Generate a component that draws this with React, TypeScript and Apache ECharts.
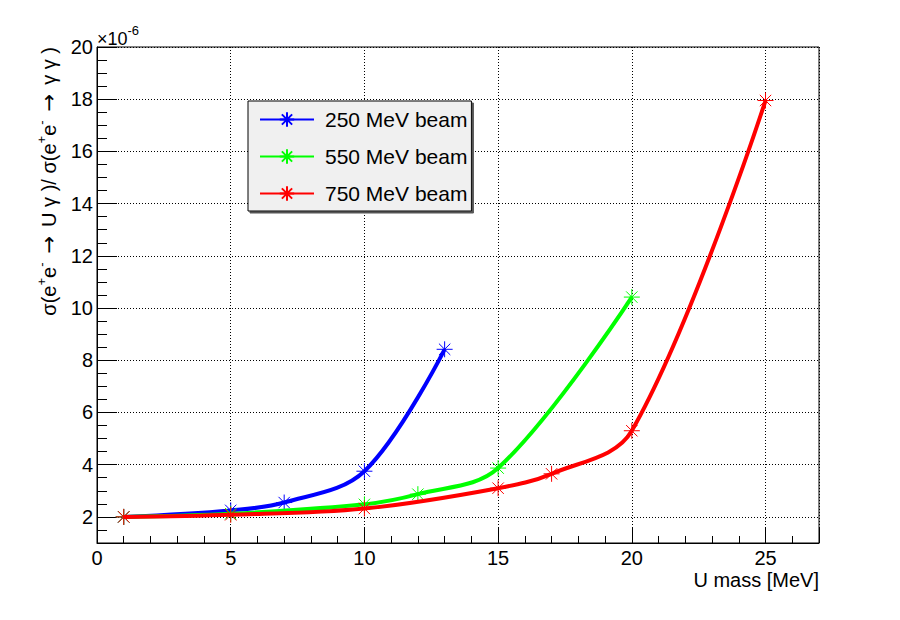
import React, { useEffect, useRef } from "react";
import * as echarts from "echarts";

// ---- data ----
const blueX = [1, 5, 7, 10, 13];
const blueY = [2.0, 2.25, 2.55, 3.75, 8.42];
const greenX = [1, 5, 10, 12, 15, 20];
const greenY = [2.0, 2.12, 2.48, 2.87, 3.87, 10.42];
const redX = [1, 5, 10, 15, 17, 20, 25];
const redY = [2.0, 2.08, 2.32, 3.1, 3.65, 5.3, 17.95];

const seriesNames = ["250 MeV beam", "550 MeV beam", "750 MeV beam"];
const seriesColors = ["#0000ff", "#00ff00", "#ff0000"];

const xMin = 0;
const xMax = 27;
const xInterval = 5;
const yMin = 1;
const yMax = 20;

const FONT = "'Liberation Sans', Arial, Helvetica, sans-serif";
const STAR = "path://M0,8 L16,8 M8,0 L8,16 M2.3,2.3 L13.7,13.7 M2.3,13.7 L13.7,2.3";

function pairs(xs: number[], ys: number[]) {
  return xs.map((x, i) => [x, ys[i]]);
}

export default function App() {
  const ref = useRef<HTMLDivElement>(null);
  useEffect(() => {
    document.body.style.margin = "0";
    const chart = echarts.init(ref.current!, null, { renderer: "svg" });
    const datasets = [pairs(blueX, blueY), pairs(greenX, greenY), pairs(redX, redY)];
    const option: any = {
      animation: false,
      backgroundColor: "#ffffff",
      textStyle: { fontFamily: FONT, color: "#000" },
      grid: {
        left: 97,
        right: 81,
        top: 47,
        bottom: 77,
        show: true,
        borderColor: "#000",
        borderWidth: 1,
        backgroundColor: "transparent",
      },
      legend: {
        orient: "vertical",
        left: 248,
        top: 101,
        padding: [8, 4, 7, 11],
        itemWidth: 54,
        itemHeight: 18,
        itemGap: 16,
        backgroundColor: "#f0f0f0",
        borderColor: "#000",
        borderWidth: 1,
        shadowColor: "#555",
        shadowBlur: 0,
        shadowOffsetX: 2,
        shadowOffsetY: 2,
        selectedMode: false,
        textStyle: { fontFamily: FONT, fontSize: 21, color: "#000", padding: [0, 0, 0, 6] },
        data: seriesNames,
      },
      xAxis: {
        type: "value",
        min: xMin,
        max: xMax,
        interval: xInterval,
        axisLine: { show: true, lineStyle: { color: "#000", width: 1 } },
        axisTick: { show: true, inside: true, length: 15, lineStyle: { color: "#000", width: 1 } },
        minorTick: { show: true, splitNumber: 5, length: 7, lineStyle: { color: "#000", width: 1 } },
        axisLabel: {
          show: true,
          showMaxLabel: false,
          margin: 5,
          fontSize: 20,
          fontFamily: FONT,
          color: "#000",
        },
        splitLine: { show: true, lineStyle: { color: "#000", width: 1, type: [1, 2] } },
      },
      yAxis: {
        type: "value",
        min: yMin,
        max: yMax,
        splitNumber: 10,
        axisLine: { show: true, lineStyle: { color: "#000", width: 1 } },
        axisTick: { show: true, inside: true, length: 20, lineStyle: { color: "#000", width: 1 } },
        minorTick: { show: true, splitNumber: 4, length: 10, lineStyle: { color: "#000", width: 1 } },
        axisLabel: {
          show: true,
          showMinLabel: false,
          margin: 4,
          fontSize: 20,
          fontFamily: FONT,
          color: "#000",
        },
        splitLine: { show: true, lineStyle: { color: "#000", width: 1, type: [1, 2] } },
      },
      graphic: [
        {
          type: "text",
          x: 49,
          y: 47,
          rotation: Math.PI / 2,
          style: {
            text:
              "{n|σ(e}{s|+}{n|e}{s|-}{a|→}{n|U γ )/ σ(e}{s|+}{n|e}{s|-}{a|→}{n|γ γ )}",
            align: "right",
            verticalAlign: "middle",
            rich: {
              n: { fontSize: 20, fontFamily: FONT, fill: "#000", lineHeight: 28, verticalAlign: "middle" },
              a: { fontSize: 21, fontFamily: "'DejaVu Sans'", fill: "#000", lineHeight: 28, verticalAlign: "middle", padding: [0, 9, 0, 9] },
              s: { fontSize: 13, fontFamily: FONT, fill: "#000", lineHeight: 28, verticalAlign: "top" },
            },
          },
        },
        {
          type: "text",
          x: 97,
          y: 48,
          style: {
            text: "{n|×10}{s|-6}",
            align: "left",
            verticalAlign: "bottom",
            rich: {
              n: { fontSize: 18, fontFamily: FONT, fill: "#000", lineHeight: 24, verticalAlign: "bottom" },
              s: { fontSize: 13, fontFamily: FONT, fill: "#000", lineHeight: 24, verticalAlign: "top" },
            },
          },
        },
        {
          type: "text",
          x: 819,
          y: 570,
          style: {
            text: "U mass [MeV]",
            align: "right",
            verticalAlign: "top",
            fontSize: 20,
            fontFamily: FONT,
            fill: "#000",
          },
        },
      ],
      series: datasets.map((d, i) => ({
        name: seriesNames[i],
        type: "line",
        data: d,
        smooth: 0.35,
        symbol: STAR,
        symbolSize: 16,
        showSymbol: true,
        silent: true,
        emphasis: { disabled: true },
        lineStyle: { color: seriesColors[i], width: 4 },
        itemStyle: { color: seriesColors[i], borderColor: seriesColors[i], borderWidth: 1 },
        z: 3 + i,
      })),
    };
    chart.setOption(option);
    return () => chart.dispose();
  }, []);
  return <div ref={ref} style={{ width: 900, height: 620 }} />;
}
